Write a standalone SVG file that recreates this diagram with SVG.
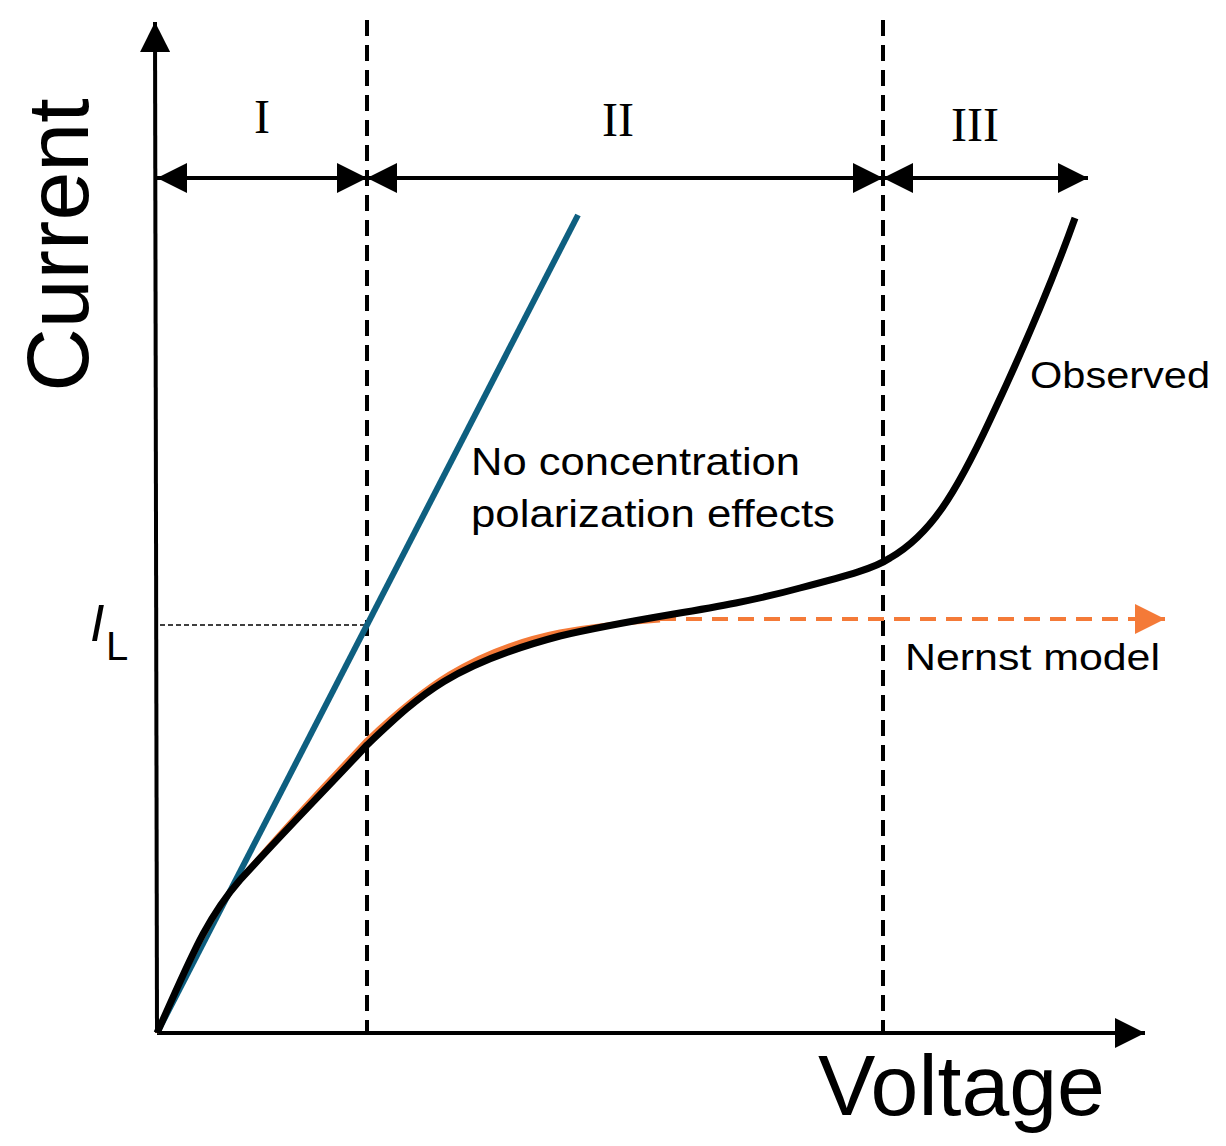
<svg xmlns="http://www.w3.org/2000/svg" width="1226" height="1146" viewBox="0 0 1226 1146">
<style>
.ax{stroke:#000;stroke-width:4;fill:none}
.dash{stroke:#000;stroke-width:4;stroke-dasharray:16 9;fill:none}
.t{font-family:"Liberation Sans",Arial,sans-serif;fill:#000}
.r{font-family:"Liberation Serif","Times New Roman",serif;fill:#000;font-size:48px;text-anchor:middle}
</style>
<defs>
<marker id="big" viewBox="0 0 10 10" refX="10" refY="5" markerWidth="30" markerHeight="30" markerUnits="userSpaceOnUse" orient="auto-start-reverse"><path d="M0,0L10,5L0,10z" fill="#000"/></marker>
<marker id="or" viewBox="0 0 10 10" refX="10" refY="5" markerWidth="30" markerHeight="30" markerUnits="userSpaceOnUse" orient="auto"><path d="M0,0L10,5L0,10z" fill="#f47a38"/></marker>
</defs>
<g id="axes">
<path class="ax" d="M157,1033 L155,22" marker-end="url(#big)"/>
<path class="ax" d="M157,1033 L1145,1033" marker-end="url(#big)"/>
</g>
<g id="regions">
<path class="dash" d="M367,20 V1033"/>
<path class="dash" d="M883,20 V1033"/>
<path class="ax" d="M157,178 H367" marker-start="url(#big)" marker-end="url(#big)"/>
<path class="ax" d="M367,178 H883" marker-start="url(#big)" marker-end="url(#big)"/>
<path class="ax" d="M883,178 H1088" marker-start="url(#big)" marker-end="url(#big)"/>
<text class="r" x="262" y="133">I</text>
<text class="r" x="618" y="136">II</text>
<text class="r" x="975" y="141">III</text>
</g>
<g id="curves">
<path d="M160,625 H367" stroke="#000" stroke-width="1.5" stroke-dasharray="5 3" fill="none"/>
<path d="M157,1033 L578,215" stroke="#0e5f80" stroke-width="6" fill="none"/>
<path d="M157,1033 C190,960 210,915 240,880 C290,820 330,780 367,740 C420,690 470,650 560,632 C600,625 630,622 660,620" stroke="#f47a38" stroke-width="5" fill="none"/>
<path d="M660,619 H1165" stroke="#f47a38" stroke-width="4" stroke-dasharray="16 10" fill="none" marker-end="url(#or)"/>
<path d="M157,1033 C190,960 205,920 240,880 C290,825 330,785 367,745 C420,695 450,665 560,636 C650,615 720,610 800,588 C850,575 875,568 890,558 C930,535 955,495 990,420 C1030,335 1060,260 1075,218" stroke="#000" stroke-width="7" fill="none"/>
</g>
<g id="labels">
<text class="t" font-size="88" transform="translate(88,245) rotate(-90)" text-anchor="middle">Current</text>
<text class="t" font-size="86" x="818" y="1115">Voltage</text>
<text class="t" font-size="52" x="90" y="641" font-style="italic">I</text>
<text class="t" font-size="40" x="106" y="660">L</text>
<text class="t" font-size="38" x="471" y="475" textLength="329" lengthAdjust="spacingAndGlyphs">No concentration</text>
<text class="t" font-size="38" x="471" y="527" textLength="364" lengthAdjust="spacingAndGlyphs">polarization effects</text>
<text class="t" font-size="37" x="1030" y="388" textLength="180" lengthAdjust="spacingAndGlyphs">Observed</text>
<text class="t" font-size="37" x="905" y="670" textLength="255" lengthAdjust="spacingAndGlyphs">Nernst model</text>
</g>
</svg>
